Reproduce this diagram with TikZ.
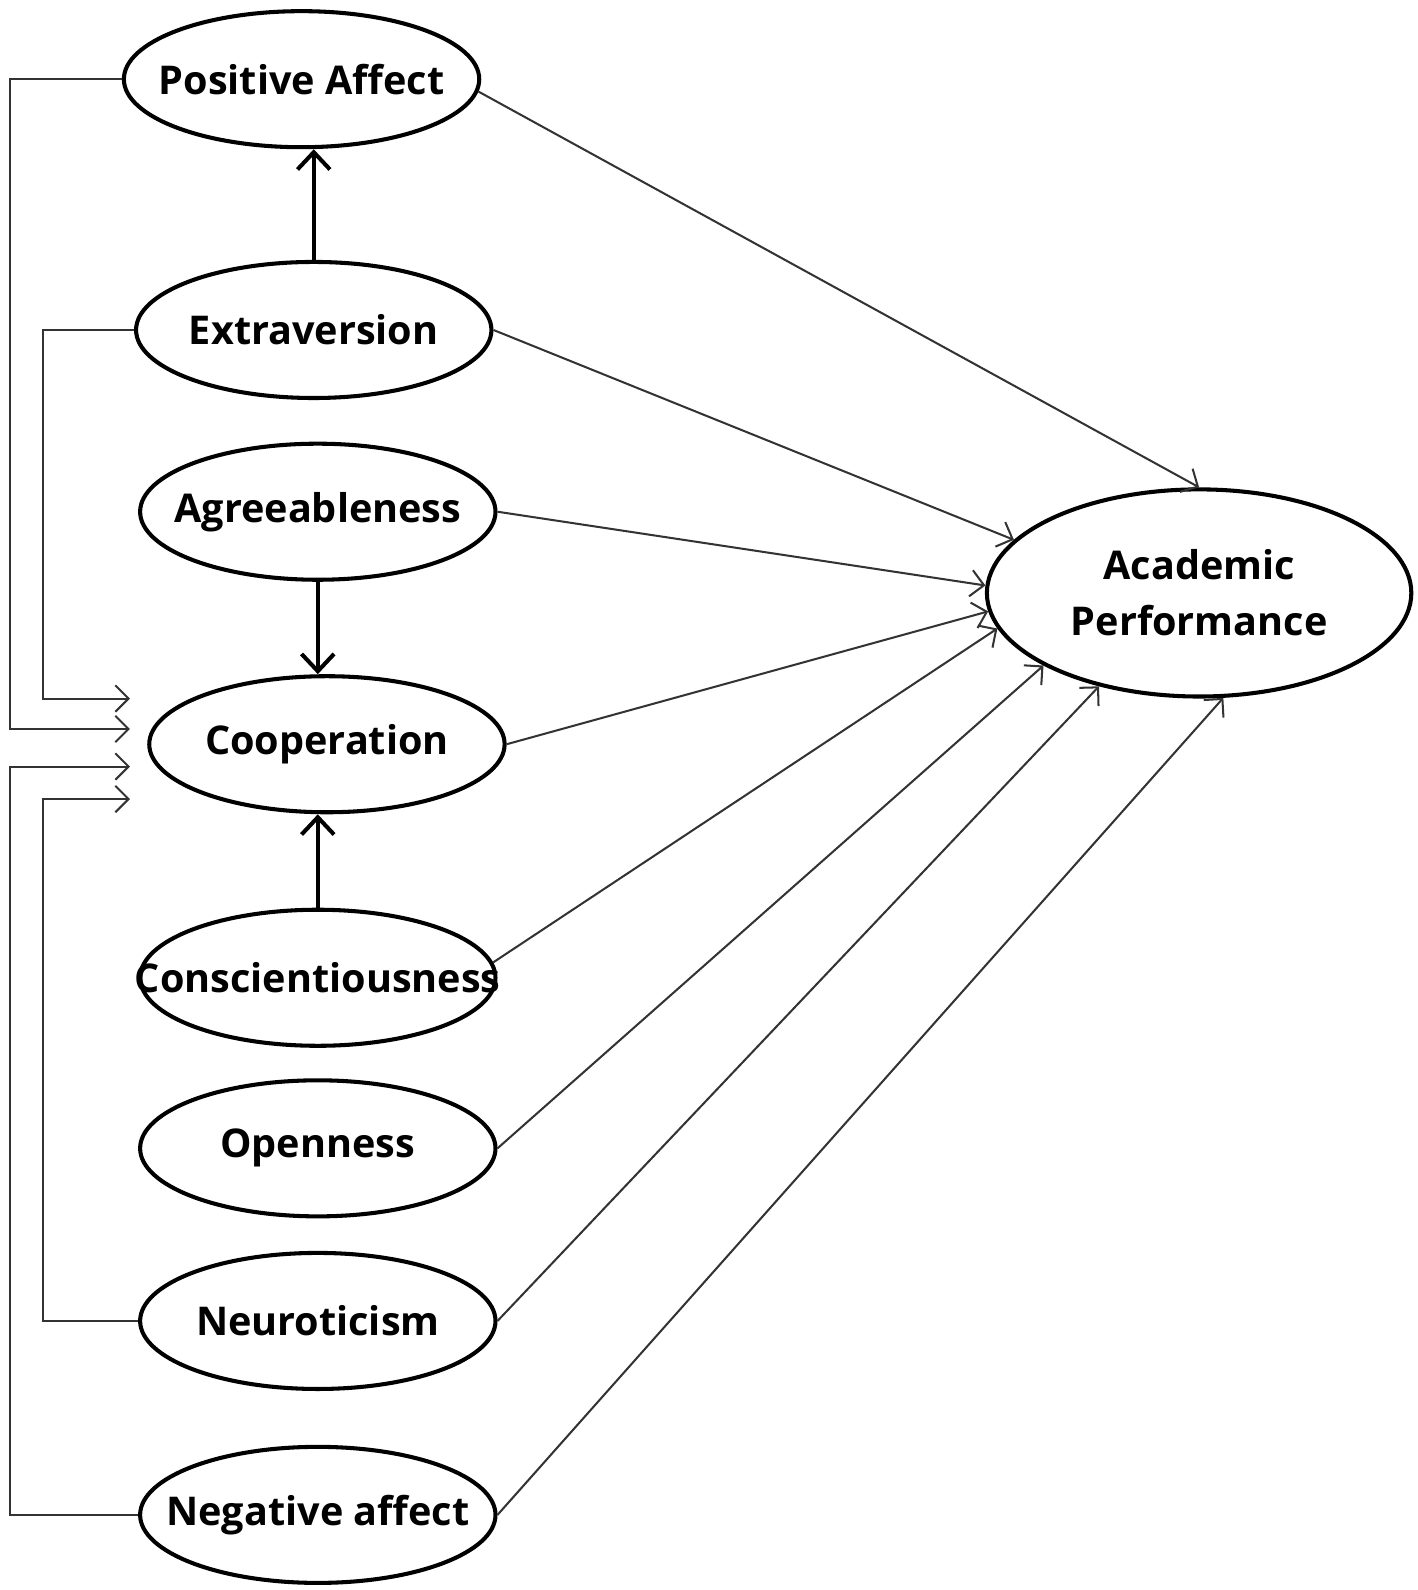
\documentclass[tikz,border=0pt]{standalone}
\usepackage{fontspec}
\setmainfont{Open Sans}
\usepackage{tikz}
\usetikzlibrary{arrows.meta, shapes.geometric}

\newcommand{\tname}[1]{\makebox[0pt][c]{#1}}

\begin{document}
\begin{tikzpicture}[x=0.5pt, y=-0.5pt,
    trait/.style={ellipse, draw, line width=2pt, inner sep=0pt, minimum width=175pt, minimum height=67pt, font=\fontsize{19.5}{23}\selectfont\bfseries},
    outcome/.style={trait, minimum width=209pt, minimum height=102pt, align=center, font=\fontsize{19.5}{27.5}\selectfont\bfseries},
    effect/.style={line width=1pt, draw=black!80, -{Straight Barb[length=6.5pt, width=13pt]}},
    link/.style={line width=2pt, -{Straight Barb[length=8.5pt, width=16pt]}}]
    \useasboundingbox (0,0) rectangle (1396,1566);

        \node[trait] (pa) at (297,78) {\tname{Positive Affect}};
        \node[trait] (ex) at (309,325) {\tname{Extraversion}};
        \node[trait] (ag) at (313,504) {\tname{Agreeableness}};
        \node[trait] (co) at (322,733) {\tname{Cooperation}};
        \node[trait] (cs) at (313,963) {\tname{Conscientiousness}};
        \node[trait] (op) at (313,1131) {\tname{Openness}};
        \node[trait] (ne) at (313,1301) {\tname{Neuroticism}};
        \node[trait] (na) at (313,1492) {\tname{Negative affect}};
        \node[outcome] (ap) at (1181,584) {Academic\\Performance};

        \draw[link] (ex.north) -- (ex.north |- pa.south);
        \draw[link] (ag.south) -- (ag.south |- co.north);
        \draw[link] (cs.north) -- (cs.north |- co.south);

        % feeds into cooperation
        \coordinate (rail1) at (10,0);
        \coordinate (rail2) at (42,0);
        \coordinate (in1) at (128,688);
        \coordinate (in2) at (128,718);
        \coordinate (in3) at (128,755);
        \coordinate (in4) at (128,787);
        \draw[effect] (ex.west) -- (ex.west -| rail2) |- (in1);
        \draw[effect] (pa.west) -- (pa.west -| rail1) |- (in2);
        \draw[effect] (na.west) -- (na.west -| rail1) |- (in3);
        \draw[effect] (ne.west) -- (ne.west -| rail2) |- (in4);

        % paths to academic performance
        \draw[effect] (pa.-4) -- (ap.90);
        \draw[effect] (ex.east) -- (ap.164);
        \draw[effect] (ag.east) -- (ap.178);
        \draw[effect] (co.east) -- (ap.185);
        \draw[effect] (cs.5) -- (ap.190);
        \draw[effect] (op.east) -- (ap.205);
        \draw[effect] (ne.east) -- (ap.223);
        \draw[effect] (na.east) -- (ap.283);
    \end{tikzpicture}
\end{document}
